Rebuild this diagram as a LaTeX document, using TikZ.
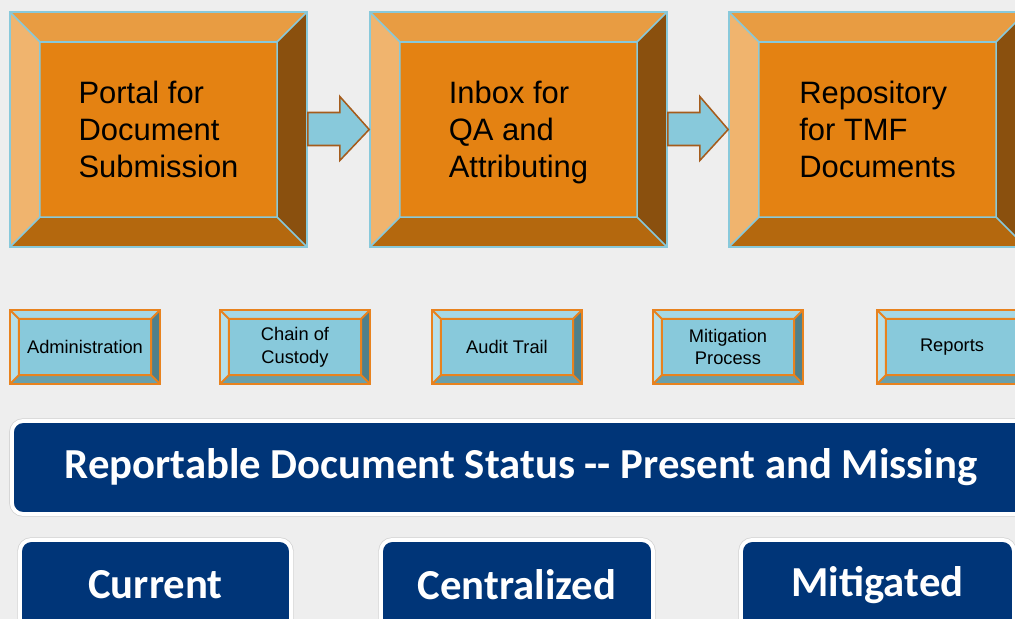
\documentclass[tikz,border=0pt]{standalone}
\usepackage{fontspec}
\setmainfont{Liberation Sans}
\newfontfamily\bannerfont{Carlito}
\usepackage{tikz}
\usetikzlibrary{calc}

\definecolor{bgpaper}{RGB}{238,238,238}
\definecolor{orangeface}{RGB}{228,130,18}
\definecolor{orangetop}{RGB}{232,156,66}
\definecolor{orangeleft}{RGB}{240,180,110}
\definecolor{orangeright}{RGB}{138,80,14}
\definecolor{orangebottom}{RGB}{180,104,14}
\definecolor{paleblue}{RGB}{136,201,219}
\definecolor{bluetop}{RGB}{166,216,229}
\definecolor{blueleft}{RGB}{182,224,234}
\definecolor{blueright}{RGB}{80,128,138}
\definecolor{bluebottom}{RGB}{104,160,172}
\definecolor{rimorange}{RGB}{232,130,30}
\definecolor{arrowbrown}{RGB}{165,92,28}
\definecolor{navy}{RGB}{0,53,120}

% bevel: #1 depth, #2 face, #3 top, #4 left, #5 right, #6 bottom, #7 line
\newcommand{\bevel}[7]{%
  \path (path picture bounding box.north west) coordinate (oNW)
        (path picture bounding box.north east) coordinate (oNE)
        (path picture bounding box.south east) coordinate (oSE)
        (path picture bounding box.south west) coordinate (oSW);
  \path ([shift={(#1,-#1)}]oNW) coordinate (iNW)
        ([shift={(-#1,-#1)}]oNE) coordinate (iNE)
        ([shift={(-#1,#1)}]oSE) coordinate (iSE)
        ([shift={(#1,#1)}]oSW) coordinate (iSW);
  \fill[#3] (oNW) -- (oNE) -- (iNE) -- (iNW) -- cycle;
  \fill[#4] (oNW) -- (iNW) -- (iSW) -- (oSW) -- cycle;
  \fill[#5] (oNE) -- (oSE) -- (iSE) -- (iNE) -- cycle;
  \fill[#6] (oSW) -- (iSW) -- (iSE) -- (oSE) -- cycle;
  \fill[#2] (iNW) rectangle (iSE);
  \draw[#7] (iNW) rectangle (iSE)
        (oNW) -- (iNW) (oNE) -- (iNE) (oSE) -- (iSE) (oSW) -- (iSW);
}

\begin{document}
\begin{tikzpicture}[x=0.025cm, y=-0.025cm,
    bigbox/.style={draw=paleblue, line width=1.1pt, inner sep=0pt,
      minimum width=7.425cm, minimum height=5.875cm,
      align=left, font=\fontsize{22}{26.3}\selectfont,
      path picture={\bevel{0.75cm}{orangeface}{orangetop}{orangeleft}{orangeright}{orangebottom}{paleblue, line width=1.1pt}}},
    smallbox/.style={draw=rimorange, line width=1.4pt, inner sep=0pt,
      minimum width=3.75cm, minimum height=1.85cm,
      align=center, font=\fontsize{13}{16.3}\selectfont,
      path picture={\bevel{0.22cm}{paleblue}{bluetop}{blueleft}{blueright}{bluebottom}{rimorange, line width=1.4pt}}},
    statusbox/.style={fill=navy, draw=white, line width=2.8pt, rounded corners=8pt,
      preaction={draw=black!18, line width=3.8pt},
      text=white, font=\bannerfont\bfseries\fontsize{30.4}{34}\selectfont},
    blockarrow/.style={fill=paleblue, draw=arrowbrown, line width=1.1pt, line join=miter}]

  % paper
  \useasboundingbox (0,0) rectangle (1015,619);
  \fill[bgpaper] (0,0) rectangle (1015,619);
  \clip (0,0) rectangle (1015,619);

  % workflow
  \node[bigbox] (portal) at (158.5,129.5) {Portal for\\Document\\Submission};
  \node[bigbox] (inbox) at (518.5,129.5) {Inbox for\\QA and\\\smash{Attributing}};
  \node[bigbox] (repo) at (877.5,129.5) {Repository\\for TMF\\Documents};

  \draw[blockarrow] ($(portal.east)+(0,-17)$) -- ($(portal.east)+(32,-17)$) -- ($(portal.east)+(32,-33)$)
    -- (inbox.west) -- ($(portal.east)+(32,31)$) -- ($(portal.east)+(32,16)$) -- ($(portal.east)+(0,16)$) -- cycle;
  \draw[blockarrow] ($(inbox.east)+(0,-17)$) -- ($(inbox.east)+(32,-17)$) -- ($(inbox.east)+(32,-33)$)
    -- (repo.west) -- ($(inbox.east)+(32,31)$) -- ($(inbox.east)+(32,16)$) -- ($(inbox.east)+(0,16)$) -- cycle;

  % features
  \node[smallbox] (admin) at (85,347) {Administration};
  \node[smallbox] (custody) at (295,347) {Chain of\\Custody};
  \node[smallbox] (audit) at (507,347) {Audit Trail};
  \node[smallbox] (mitig) at (728,347) {Mitigation\\Process};
  \node[smallbox] (reports) at (952,347) {Reports};

  % status
  \node[statusbox, minimum width=25.45cm, minimum height=2.325cm] (status) at (521,467.5)
    {Reportable Document Status -- Present and Missing};
  \node[statusbox, minimum width=6.775cm, minimum height=2.25cm] (current) at (155.5,585) {Current};
  \node[statusbox, minimum width=6.8cm, minimum height=2.25cm] (central) at (517,585) {Centralized};
  \node[statusbox, minimum width=6.825cm, minimum height=2.25cm] (mitigated) at (877.5,585) {Mitigated};
\end{tikzpicture}
\end{document}
